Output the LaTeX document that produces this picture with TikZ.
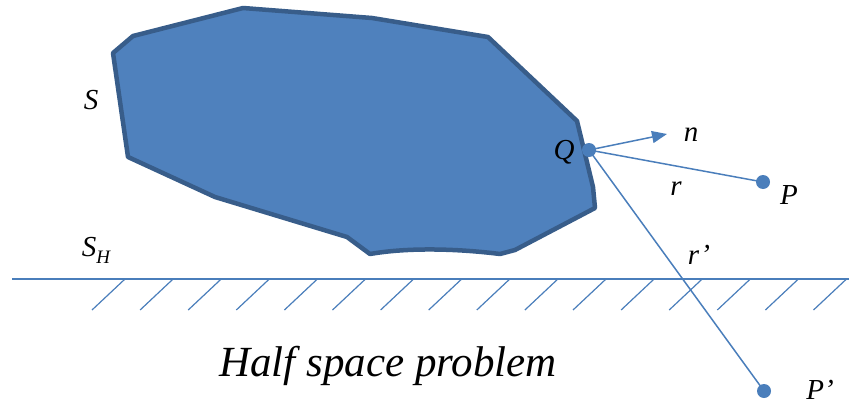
\documentclass[tikz,border=0pt]{standalone}
\usepackage{fontspec}
\setmainfont{Liberation Serif}
\usetikzlibrary{arrows.meta}
\definecolor{fillblue}{HTML}{4F81BD}
\definecolor{edgeblue}{HTML}{385D8A}
\definecolor{lineblue}{HTML}{4A7EBB}
\begin{document}
\begin{tikzpicture}[x=1pt,y=-1pt,
  dot/.style={circle,fill=lineblue,inner sep=0pt,minimum size=14pt},
  conn/.style={draw=lineblue,line width=1.5pt},
  lbl/.style={font=\fontsize{29}{31}\selectfont\itshape,inner sep=0pt}]
\useasboundingbox (0,0) rectangle (849,407);
% body S
\draw[fill=fillblue,draw=edgeblue,line width=4.5pt,line join=round]
  (113,53) -- (133,36) -- (243,8) -- (372,18) -- (488,37) -- (577,121)
  -- (593,187) -- (595,208) -- (515,250) -- (500,254)
  .. controls (460,249) and (410,247) .. (370,254) -- (347,237)
  -- (215,197) -- (128,157) -- cycle;
% ground
\coordinate (g1) at (12,279);
\coordinate (g2) at (849,279);
\draw[conn] (g1) -- (g2);
\foreach \i in {0,...,15}{
  \draw[draw=lineblue,line width=1.2pt] (125+48.1*\i,279) -- ++(-33,31);
}
% points
\node[dot] (Q) at (589,150) {};
\node[dot] (P) at (763,182) {};
\node[dot] (Pp) at (764,391) {};
\coordinate (ntip) at (667,134);
\draw[conn,-{Triangle[length=15pt,width=12pt]}] (Q.center) -- (ntip);
\draw[conn] (Q.center) -- (P.center);
\draw[conn] (Q.center) -- (Pp.center);
% labels
\node[lbl] (lQ) at (564,152) {Q};
\node[lbl] (ln) at (691,135) {n};
\node[lbl] (lP) at (789,195) {P};
\node[lbl] (lr) at (676,189) {r};
\node[lbl] (lrp) at (699,255) {r’};
\node[lbl] (lPp) at (820,390) {P’};
\node[lbl] (lS) at (91,100) {S};
\node[lbl] (lSH) at (96,250) {S\raisebox{-7pt}{\fontsize{19}{21}\selectfont H}};
\node[font=\fontsize{43}{46}\selectfont\itshape,inner sep=0pt] (title) at (388,366) {Half space problem};
\end{tikzpicture}
\end{document}
